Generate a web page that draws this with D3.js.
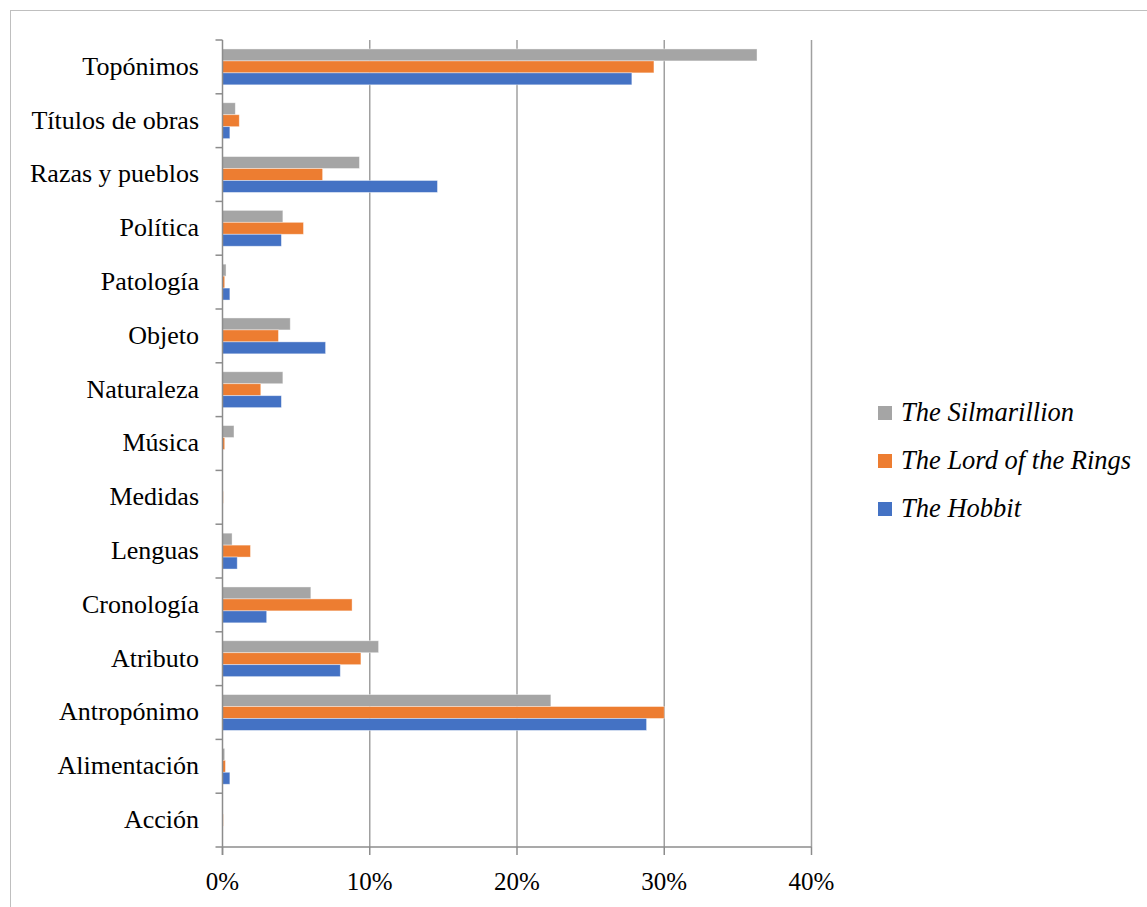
<!DOCTYPE html>
<html><head><meta charset="utf-8">
<script src="https://cdn.jsdelivr.net/npm/d3@7"></script>
<style>body{margin:0;background:#fff}svg{display:block}</style>
</head><body>
<script>
const categories = ["Topónimos","Títulos de obras","Razas y pueblos","Política","Patología","Objeto","Naturaleza","Música","Medidas","Lenguas","Cronología","Atributo","Antropónimo","Alimentación","Acción"];
const seriesNames = ["The Silmarillion","The Lord of the Rings","The Hobbit"];
const silmarillion = [36.3,0.87,9.3,4.1,0.24,4.6,4.1,0.78,0.0,0.65,6.0,10.6,22.3,0.15,0.0];
const lordOfTheRings = [29.3,1.14,6.8,5.5,0.15,3.8,2.6,0.15,0.05,1.9,8.8,9.4,30.0,0.2,0.05];
const hobbit = [27.8,0.5,14.6,4.0,0.5,7.0,4.0,0.0,0.0,1.0,3.0,8.0,28.8,0.5,0.0];
const xTicks = [0,10,20,30,40];
const colors = ["#A5A5A5","#ED7D31","#4472C4"];
const seriesValues = [silmarillion, lordOfTheRings, hobbit];

(function(){
const W = 1147, H = 907;
const svg = d3.select("body").append("svg").attr("width", W).attr("height", H);
const font = "'Liberation Serif', 'Times New Roman', serif";

svg.append("rect").attr("x",10.5).attr("y",10.5).attr("width",1200).attr("height",1200)
  .attr("fill","#fff").attr("stroke","#bfbfbf").attr("stroke-width",1);

const pLeft = 222.5, pRight = 811.5, pTop = 40, pBottom = 847;
const x = d3.scaleLinear().domain([0,40]).range([pLeft,pRight]);
const yOuter = d3.scaleBand().domain(categories).range([pTop,pBottom]);
const groupH = yOuter.bandwidth()*2/3;
const ySub = d3.scaleBand().domain(seriesNames).range([0,groupH]);

// gridlines
svg.append("g").selectAll("line").data(xTicks.slice(1)).join("line")
  .attr("x1",d=>x(d)).attr("x2",d=>x(d))
  .attr("y1",pTop).attr("y2",pBottom).attr("stroke","#a0a0a0").attr("stroke-width",1.5);

// bars
const g = svg.append("g");
seriesNames.forEach((s,si)=>{
  g.append("g").selectAll("rect").data(categories).join("rect")
    .attr("x",pLeft)
    .attr("y",(c)=>yOuter(c)+ (yOuter.bandwidth()-groupH)/2 + ySub(s))
    .attr("width",(c,i)=>Math.max(0,x(seriesValues[si][i])-pLeft))
    .attr("height",ySub.bandwidth())
    .attr("fill",colors[si])
    .attr("stroke", "rgba(255,255,255,0.5)").attr("stroke-width",0.8);
});

// y axis
const yAxisG = svg.append("g");
yAxisG.append("line").attr("x1",pLeft).attr("x2",pLeft).attr("y1",pTop).attr("y2",pBottom+8)
  .attr("stroke","#8c8c8c").attr("stroke-width",1.5);
const yTickPos = categories.map(c=>yOuter(c)).concat([pBottom]);
yAxisG.selectAll("line.t").data(yTickPos).join("line").attr("class","t")
  .attr("x1",pLeft-7).attr("x2",pLeft).attr("y1",d=>d).attr("y2",d=>d)
  .attr("stroke","#8c8c8c").attr("stroke-width",1.5);
yAxisG.selectAll("text").data(categories).join("text")
  .attr("x",199).attr("y",c=>yOuter(c)+yOuter.bandwidth()/2)
  .attr("dy","0.3em").attr("text-anchor","end")
  .attr("font-family",font).attr("font-size",26).attr("fill","#000")
  .text(d=>d);

// x axis
const xAxisG = svg.append("g");
xAxisG.append("line").attr("x1",pLeft).attr("x2",pRight).attr("y1",pBottom).attr("y2",pBottom)
  .attr("stroke","#8c8c8c").attr("stroke-width",1.5);
xAxisG.selectAll("line.t").data(xTicks).join("line").attr("class","t")
  .attr("x1",d=>x(d)).attr("x2",d=>x(d)).attr("y1",pBottom).attr("y2",pBottom+8)
  .attr("stroke","#8c8c8c").attr("stroke-width",1.5);
xAxisG.selectAll("text").data(xTicks).join("text")
  .attr("x",d=>x(d)).attr("y",890).attr("text-anchor","middle")
  .attr("font-family",font).attr("font-size",25).attr("fill","#000")
  .text(d=>d+"%");

// legend
const legend = svg.append("g");
seriesNames.forEach((s,i)=>{
  const cy = 413 + i*48;
  legend.append("rect").attr("x",878).attr("y",cy-7).attr("width",14).attr("height",14).attr("fill",colors[i]);
  legend.append("text").attr("x",901).attr("y",cy).attr("dy","0.3em")
    .attr("font-family",font).attr("font-style","italic").attr("font-size",26.5).attr("fill","#000").text(s);
});
})();
</script>
</body></html>
